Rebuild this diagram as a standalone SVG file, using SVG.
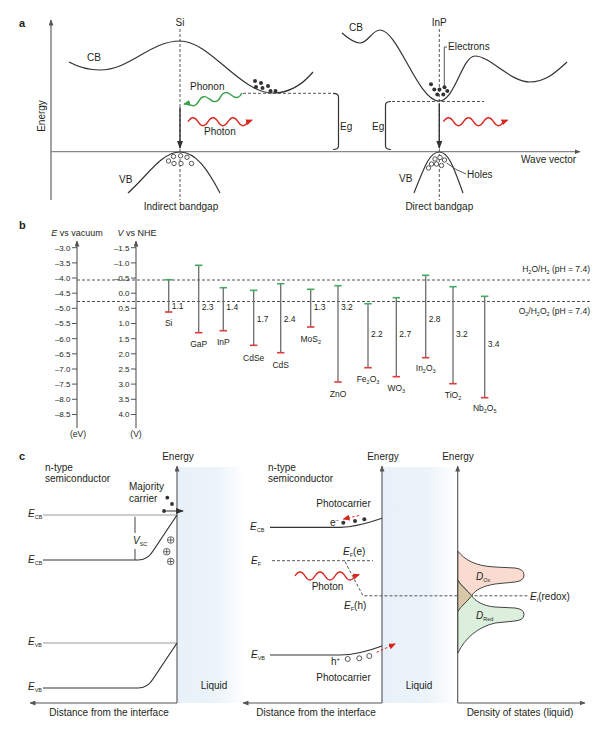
<svg xmlns="http://www.w3.org/2000/svg" width="600" height="731" viewBox="0 0 600 731">
<defs>
<style>
.t{font-family:"Liberation Sans",Arial,sans-serif;fill:#231f20}
.b{font-weight:bold;font-size:11px}
.f10{font-size:10px}
.f9{font-size:9px}
.f85{font-size:8.5px}
.f8{font-size:8px}
.mid{text-anchor:middle}
.end{text-anchor:end}
.it{font-style:italic}
.curve{fill:none;stroke:#333;stroke-width:1.2}
.axis{fill:none;stroke:#555;stroke-width:1.1}
.haxis{fill:none;stroke:#888;stroke-width:1.3}
.thin{fill:none;stroke:#999;stroke-width:1}
.dash{fill:none;stroke:#555;stroke-width:1;stroke-dasharray:3 2}
.bar{stroke:#6d6d6d;stroke-width:1.3}
.cbt{stroke:#45ab62;stroke-width:1.6}
.vbt{stroke:#e03a3a;stroke-width:1.6}
.tick{stroke:#555;stroke-width:1}
.el{fill:#333}
.hole{fill:#fff;stroke:#444;stroke-width:0.9}
.redw{fill:none;stroke:#d8261f;stroke-width:1.4}
.greenw{fill:none;stroke:#3aa14a;stroke-width:1.4}
.reddash{fill:none;stroke:#d8261f;stroke-width:1;stroke-dasharray:2.5 2}
</style>
<marker id="aDark" markerUnits="userSpaceOnUse" markerWidth="8" markerHeight="6" refX="7" refY="3" orient="auto"><path d="M0,0 L8,3 L0,6 Z" fill="#333"/></marker>
<marker id="aGray" markerUnits="userSpaceOnUse" markerWidth="6" markerHeight="5" refX="5.5" refY="2.5" orient="auto"><path d="M0,0 L6,2.5 L0,5 Z" fill="#555"/></marker>
<marker id="aRed" markerUnits="userSpaceOnUse" markerWidth="7" markerHeight="6" refX="6" refY="3" orient="auto"><path d="M0,0 L7,3 L0,6 Z" fill="#d8261f"/></marker>
<marker id="aGreen" markerUnits="userSpaceOnUse" markerWidth="7" markerHeight="6" refX="6" refY="3" orient="auto"><path d="M0,0 L7,3 L0,6 Z" fill="#3aa14a"/></marker>
<linearGradient id="liq" x1="0" y1="0" x2="1" y2="0">
<stop offset="0" stop-color="#e8f1f9"/>
<stop offset="0.6" stop-color="#ecf4fa"/>
<stop offset="1" stop-color="#ffffff"/>
</linearGradient>
</defs>
<rect width="600" height="731" fill="#fff"/>

<!-- ================= PANEL A ================= -->
<g id="panel-a">
<text class="t b" x="19" y="27">a</text>
<g id="a-axes">
<line class="axis" x1="51" y1="200" x2="51" y2="20" marker-end="url(#aGray)"/>
<line class="haxis" x1="51" y1="151.7" x2="580" y2="151.7" marker-end="url(#aGray)"/>
<text class="t f10 mid" transform="translate(45,116) rotate(-90)">Energy</text>
<text class="t f10" x="521" y="163">Wave vector</text>
</g>
<g id="si-indirect">
<text class="t f10 mid" x="180" y="26">Si</text>
<line class="dash" x1="180" y1="29" x2="180" y2="200"/>
<path class="curve" d="M69,62 C80,68 90,70 100,70 C130,70 150,41 180,41 C210,41 240,93 273,93 C290,93 303,84 313,72"/>
<text class="t f10" x="87" y="61">CB</text>
<line class="dash" x1="243" y1="93.3" x2="333" y2="93.3"/>
<path class="curve" d="M333,93.3 Q338.5,93.3 338.5,97 V146 Q338.5,149.5 333,149.5" stroke-width="1"/>
<text class="t f10" x="340" y="130">Eg</text>
<g id="si-electrons">
<circle class="el" cx="255" cy="81" r="2"/><circle class="el" cx="261" cy="83" r="2"/><circle class="el" cx="256" cy="87" r="2"/><circle class="el" cx="262.5" cy="88" r="2"/><circle class="el" cx="268" cy="86" r="2"/><circle class="el" cx="270.5" cy="91" r="2"/><circle class="el" cx="275.5" cy="91" r="2"/>
</g>
<text class="t f10" x="190" y="90">Phonon</text>
<path class="greenw" transform="translate(242,93) rotate(169.3)" d="M0,0 q5.5,-7 11,0 t11,0 t11,0 t11,0 t11,0 l4,0" marker-end="url(#aGreen)"/>
<path class="redw" d="M188,121.7 q5,-8 10,0 t10,0 t10,0 t10,0 t10,0 t10,0 l4,-1.5" marker-end="url(#aRed)"/>
<text class="t f10" x="204" y="135">Photon</text>
<line x1="180" y1="107.3" x2="180" y2="148" stroke="#333" stroke-width="1.4" marker-end="url(#aDark)"/>
<path class="curve" d="M128,193 C148,175 162,152 180,152 C196,152 208,170 220,193"/>
<text class="t f10" x="119" y="183">VB</text>
<g id="si-holes">
<circle class="hole" cx="168.5" cy="161" r="2.2"/><circle class="hole" cx="173.5" cy="156.5" r="2.2"/><circle class="hole" cx="180.5" cy="155.8" r="2.2"/><circle class="hole" cx="187" cy="157.3" r="2.2"/><circle class="hole" cx="174" cy="163.5" r="2.2"/><circle class="hole" cx="181" cy="163.5" r="2.2"/><circle class="hole" cx="191.5" cy="163.5" r="2.2"/>
</g>
<text class="t f10 mid" x="181" y="210">Indirect bandgap</text>
</g>
<g id="inp-direct">
<text class="t f10 mid" x="439.3" y="26">InP</text>
<line class="dash" x1="439.3" y1="29" x2="439.3" y2="200"/>
<path class="curve" d="M342,33 C350,40 355,43 360,43 C368,43 372,30 380,30 C398,30 418,101 439,101 C455,101 462,56 475,56 C490,56 510,82 530,82 C547,82 558,70 567,62"/>
<text class="t f10" x="349" y="31">CB</text>
<path d="M447,47 H444.3 V88" fill="none" stroke="#444" stroke-width="0.9"/>
<text class="t f10" x="448" y="50">Electrons</text>
<g id="inp-electrons">
<circle class="el" cx="431" cy="84.3" r="2"/><circle class="el" cx="434.3" cy="89.5" r="2"/><circle class="el" cx="439.5" cy="89.5" r="2"/><circle class="el" cx="444.5" cy="87.3" r="2"/><circle class="el" cx="447.3" cy="91" r="2"/><circle class="el" cx="437.3" cy="94.5" r="2"/><circle class="el" cx="443.3" cy="94.5" r="2"/>
</g>
<line class="dash" x1="392" y1="101.5" x2="484" y2="101.5"/>
<path class="curve" d="M391,101.5 Q385.5,101.5 385.5,105 V146 Q385.5,149.5 391,149.5" stroke-width="1"/>
<text class="t f10" x="372" y="130">Eg</text>
<line x1="439.3" y1="103.3" x2="439.3" y2="148" stroke="#333" stroke-width="1.4" marker-end="url(#aDark)"/>
<path class="redw" d="M443.5,121.7 q5,-8 10,0 t10,0 t10,0 t10,0 t10,0 t10,0 l4,-1.5" marker-end="url(#aRed)"/>
<path class="curve" d="M414,193 C425,165 430,152 439.3,152 C448,152 453,165 463,193"/>
<text class="t f10" x="399" y="182">VB</text>
<g id="inp-holes">
<circle class="hole" cx="435" cy="159" r="2.2"/><circle class="hole" cx="440" cy="157.5" r="2.2"/><circle class="hole" cx="444.5" cy="160" r="2.2"/><circle class="hole" cx="431.5" cy="164" r="2.2"/><circle class="hole" cx="436.5" cy="164" r="2.2"/><circle class="hole" cx="441.5" cy="165.5" r="2.2"/><circle class="hole" cx="428.5" cy="168" r="2.2"/>
</g>
<path d="M446.7,163 Q455,170 466,174" fill="none" stroke="#444" stroke-width="0.9"/>
<text class="t f10" x="467" y="178">Holes</text>
<text class="t f10 mid" x="439.3" y="210">Direct bandgap</text>
</g>
</g>

<!-- ================= PANEL B ================= -->
<g id="panel-b">
<text class="t b" x="19" y="229">b</text>
<g id="b-axes">
<text class="t f9 mid" x="77" y="236"><tspan class="it">E</tspan> vs vacuum</text>
<text class="t f9 mid" x="137" y="236"><tspan class="it">V</tspan> vs NHE</text>
<line class="axis" x1="77" y1="428" x2="77" y2="241" marker-end="url(#aGray)"/>
<line class="axis" x1="136" y1="428" x2="136" y2="241" marker-end="url(#aGray)"/>
<g class="tick">
<line x1="72" y1="247.7" x2="77" y2="247.7"/><line x1="72" y1="262.9" x2="77" y2="262.9"/><line x1="72" y1="278" x2="77" y2="278"/><line x1="72" y1="293.2" x2="77" y2="293.2"/><line x1="72" y1="308.3" x2="77" y2="308.3"/><line x1="72" y1="323.5" x2="77" y2="323.5"/><line x1="72" y1="338.7" x2="77" y2="338.7"/><line x1="72" y1="353.8" x2="77" y2="353.8"/><line x1="72" y1="369" x2="77" y2="369"/><line x1="72" y1="384.1" x2="77" y2="384.1"/><line x1="72" y1="399.3" x2="77" y2="399.3"/><line x1="72" y1="414.5" x2="77" y2="414.5"/>
<line x1="131" y1="247.7" x2="136" y2="247.7"/><line x1="131" y1="262.9" x2="136" y2="262.9"/><line x1="131" y1="278" x2="136" y2="278"/><line x1="131" y1="293.2" x2="136" y2="293.2"/><line x1="131" y1="308.3" x2="136" y2="308.3"/><line x1="131" y1="323.5" x2="136" y2="323.5"/><line x1="131" y1="338.7" x2="136" y2="338.7"/><line x1="131" y1="353.8" x2="136" y2="353.8"/><line x1="131" y1="369" x2="136" y2="369"/><line x1="131" y1="384.1" x2="136" y2="384.1"/><line x1="131" y1="399.3" x2="136" y2="399.3"/><line x1="131" y1="414.5" x2="136" y2="414.5"/>
</g>
<g class="t f8 end">
<text x="70.5" y="250.5">–3.0</text><text x="70.5" y="265.7">–3.5</text><text x="70.5" y="280.8">–4.0</text><text x="70.5" y="296">–4.5</text><text x="70.5" y="311.1">–5.0</text><text x="70.5" y="326.3">–5.5</text><text x="70.5" y="341.5">–6.0</text><text x="70.5" y="356.6">–6.5</text><text x="70.5" y="371.8">–7.0</text><text x="70.5" y="386.9">–7.5</text><text x="70.5" y="402.1">–8.0</text><text x="70.5" y="417.3">–8.5</text>
<text x="129.5" y="250.5">–1.5</text><text x="129.5" y="265.7">–1.0</text><text x="129.5" y="280.8">–0.5</text><text x="129.5" y="296">0.0</text><text x="129.5" y="311.1">0.5</text><text x="129.5" y="326.3">1.0</text><text x="129.5" y="341.5">1.5</text><text x="129.5" y="356.6">2.0</text><text x="129.5" y="371.8">2.5</text><text x="129.5" y="386.9">3.0</text><text x="129.5" y="402.1">3.5</text><text x="129.5" y="417.3">4.0</text>
</g>
<text class="t f85 mid" x="78" y="437">(eV)</text>
<text class="t f85 mid" x="136" y="437">(V)</text>
</g>
<g id="redox-levels">
<line class="dash" x1="77" y1="280" x2="590" y2="280"/>
<line class="dash" x1="77" y1="301.5" x2="590" y2="301.5"/>
<text class="t f85 end" x="590" y="271.5">H<tspan font-size="5.5" dy="2">2</tspan><tspan dy="-2">O/H</tspan><tspan font-size="5.5" dy="2">2</tspan><tspan dy="-2"> (pH = 7.4)</tspan></text>
<text class="t f85 end" x="590" y="314">O<tspan font-size="5.5" dy="2">2</tspan><tspan dy="-2">/H</tspan><tspan font-size="5.5" dy="2">2</tspan><tspan dy="-2">O</tspan><tspan font-size="5.5" dy="2">2</tspan><tspan dy="-2"> (pH = 7.4)</tspan></text>
</g>
<g id="bar-si"><line class="bar" x1="168.7" y1="279.7" x2="168.7" y2="312"/><line class="cbt" x1="165" y1="279.7" x2="172.4" y2="279.7"/><line class="vbt" x1="165" y1="312" x2="172.4" y2="312"/><text class="t f85" x="171.7" y="309">1.1</text><text class="t f85 mid" x="168.7" y="326">Si</text></g>
<g id="bar-gap"><line class="bar" x1="198.7" y1="265.3" x2="198.7" y2="332.7"/><line class="cbt" x1="195" y1="265.3" x2="202.4" y2="265.3"/><line class="vbt" x1="195" y1="332.7" x2="202.4" y2="332.7"/><text class="t f85" x="201.7" y="310">2.3</text><text class="t f85 mid" x="198.7" y="346.5">GaP</text></g>
<g id="bar-inp"><line class="bar" x1="223.3" y1="287.7" x2="223.3" y2="330.7"/><line class="cbt" x1="219.6" y1="287.7" x2="227" y2="287.7"/><line class="vbt" x1="219.6" y1="330.7" x2="227" y2="330.7"/><text class="t f85" x="226.3" y="309.5">1.4</text><text class="t f85 mid" x="223.3" y="345">InP</text></g>
<g id="bar-cdse"><line class="bar" x1="253.7" y1="290.3" x2="253.7" y2="345.3"/><line class="cbt" x1="250" y1="290.3" x2="257.4" y2="290.3"/><line class="vbt" x1="250" y1="345.3" x2="257.4" y2="345.3"/><text class="t f85" x="256.7" y="322">1.7</text><text class="t f85 mid" x="253.7" y="360.5">CdSe</text></g>
<g id="bar-cds"><line class="bar" x1="280.7" y1="283.7" x2="280.7" y2="352.7"/><line class="cbt" x1="277" y1="283.7" x2="284.4" y2="283.7"/><line class="vbt" x1="277" y1="352.7" x2="284.4" y2="352.7"/><text class="t f85" x="283.7" y="322">2.4</text><text class="t f85 mid" x="280.7" y="367.5">CdS</text></g>
<g id="bar-mos2"><line class="bar" x1="310.7" y1="289.3" x2="310.7" y2="327"/><line class="cbt" x1="307" y1="289.3" x2="314.4" y2="289.3"/><line class="vbt" x1="307" y1="327" x2="314.4" y2="327"/><text class="t f85" x="313.7" y="309.5">1.3</text><text class="t f85 mid" x="310.7" y="341.5">MoS<tspan font-size="5.5" dy="2">2</tspan></text></g>
<g id="bar-zno"><line class="bar" x1="338" y1="285.7" x2="338" y2="382"/><line class="cbt" x1="334.3" y1="285.7" x2="341.7" y2="285.7"/><line class="vbt" x1="334.3" y1="382" x2="341.7" y2="382"/><text class="t f85" x="341" y="309.5">3.2</text><text class="t f85 mid" x="338" y="396.5">ZnO</text></g>
<g id="bar-fe2o3"><line class="bar" x1="368" y1="303.7" x2="368" y2="367.7"/><line class="cbt" x1="364.3" y1="303.7" x2="371.7" y2="303.7"/><line class="vbt" x1="364.3" y1="367.7" x2="371.7" y2="367.7"/><text class="t f85" x="371" y="336.5">2.2</text><text class="t f85 mid" x="368" y="381.5">Fe<tspan font-size="5.5" dy="2">2</tspan><tspan dy="-2">O</tspan><tspan font-size="5.5" dy="2">3</tspan></text></g>
<g id="bar-wo3"><line class="bar" x1="396.3" y1="297.7" x2="396.3" y2="376.7"/><line class="cbt" x1="392.6" y1="297.7" x2="400" y2="297.7"/><line class="vbt" x1="392.6" y1="376.7" x2="400" y2="376.7"/><text class="t f85" x="399.3" y="336.5">2.7</text><text class="t f85 mid" x="396.3" y="391">WO<tspan font-size="5.5" dy="2">3</tspan></text></g>
<g id="bar-in2o3"><line class="bar" x1="425.7" y1="275.3" x2="425.7" y2="357.7"/><line class="cbt" x1="422" y1="275.3" x2="429.4" y2="275.3"/><line class="vbt" x1="422" y1="357.7" x2="429.4" y2="357.7"/><text class="t f85" x="428.7" y="322">2.8</text><text class="t f85 mid" x="425.7" y="370.5">In<tspan font-size="5.5" dy="2">2</tspan><tspan dy="-2">O</tspan><tspan font-size="5.5" dy="2">3</tspan></text></g>
<g id="bar-tio2"><line class="bar" x1="453" y1="286.7" x2="453" y2="383.7"/><line class="cbt" x1="449.3" y1="286.7" x2="456.7" y2="286.7"/><line class="vbt" x1="449.3" y1="383.7" x2="456.7" y2="383.7"/><text class="t f85" x="456" y="337">3.2</text><text class="t f85 mid" x="453" y="397.5">TiO<tspan font-size="5.5" dy="2">2</tspan></text></g>
<g id="bar-nb2o5"><line class="bar" x1="484.7" y1="296.3" x2="484.7" y2="397.7"/><line class="cbt" x1="481" y1="296.3" x2="488.4" y2="296.3"/><line class="vbt" x1="481" y1="397.7" x2="488.4" y2="397.7"/><text class="t f85" x="487.7" y="346.5">3.4</text><text class="t f85 mid" x="484.7" y="411">Nb<tspan font-size="5.5" dy="2">2</tspan><tspan dy="-2">O</tspan><tspan font-size="5.5" dy="2">5</tspan></text></g>
</g>

<!-- ================= PANEL C ================= -->
<g id="panel-c">
<text class="t b" x="19" y="460">c</text>
<rect id="liquid-1" x="177" y="467" width="68" height="236" fill="url(#liq)"/>
<rect id="liquid-2" x="382" y="467" width="76" height="236" fill="url(#liq)"/>
<text class="t f10 mid" x="214" y="689">Liquid</text>
<text class="t f10 mid" x="419" y="689">Liquid</text>

<g id="c-dark">
<line class="axis" x1="177" y1="703" x2="177" y2="466" marker-end="url(#aGray)"/>
<line class="axis" x1="177" y1="703" x2="30" y2="703" marker-end="url(#aGray)"/>
<text class="t f10 mid" x="178" y="460">Energy</text>
<text class="t f10 mid" x="109" y="716">Distance from the interface</text>
<text class="t f10" x="45" y="470.5">n-type</text>
<text class="t f10" x="45" y="482">semiconductor</text>
<text class="t f10" x="129" y="490">Majority</text>
<text class="t f10" x="129" y="501.5">carrier</text>
<circle class="el" cx="167.3" cy="497.7" r="1.9"/>
<circle class="el" cx="172" cy="504" r="1.9"/>
<circle class="el" cx="164" cy="511" r="1.9"/>
<line x1="164" y1="511" x2="183" y2="511" stroke="#333" stroke-width="1" marker-end="url(#aDark)"/>
<line class="thin" x1="43" y1="515" x2="177" y2="515"/>
<path class="curve" d="M43,560 H138 C146,560 150,556 153,551 L177,515"/>
<text class="t f10" x="28" y="517"><tspan class="it">E</tspan><tspan font-size="5.5" dy="2">CB</tspan></text>
<text class="t f10" x="28" y="563"><tspan class="it">E</tspan><tspan font-size="5.5" dy="2">CB</tspan></text>
<line x1="135" y1="516.7" x2="135" y2="533" stroke="#444" stroke-width="1"/>
<line x1="135" y1="549" x2="135" y2="560" stroke="#444" stroke-width="1"/>
<text class="t f10" x="133" y="544"><tspan class="it">V</tspan><tspan font-size="5.5" dy="2">SC</tspan></text>
<g id="plus-charges" fill="none" stroke="#444" stroke-width="0.8">
<circle cx="170.7" cy="540" r="3.3"/><path d="M168,540 h5.4 M170.7,537.3 v5.4"/>
<circle cx="166.7" cy="551.7" r="3.3"/><path d="M164,551.7 h5.4 M166.7,549 v5.4"/>
<circle cx="170.7" cy="561.5" r="3.3"/><path d="M168,561.5 h5.4 M170.7,558.8 v5.4"/>
</g>
<line class="thin" x1="43" y1="643" x2="177" y2="643"/>
<path class="curve" d="M43,688 H138 C146,688 150,684 153,679 L177,643"/>
<text class="t f10" x="28" y="645"><tspan class="it">E</tspan><tspan font-size="5.5" dy="2">VB</tspan></text>
<text class="t f10" x="28" y="690"><tspan class="it">E</tspan><tspan font-size="5.5" dy="2">VB</tspan></text>
</g>

<g id="c-light">
<line class="axis" x1="382" y1="703" x2="382" y2="466" marker-end="url(#aGray)"/>
<line class="axis" x1="382" y1="703" x2="243" y2="703" marker-end="url(#aGray)"/>
<text class="t f10 mid" x="383" y="460">Energy</text>
<text class="t f10 mid" x="316" y="716">Distance from the interface</text>
<text class="t f10" x="268" y="470.5">n-type</text>
<text class="t f10" x="268" y="482">semiconductor</text>
<text class="t f10 mid" x="343.5" y="506.5">Photocarrier</text>
<path class="curve" d="M270,527.3 H340 C355,527.3 370,522.5 382,518.3"/>
<text class="t f10" x="250" y="530"><tspan class="it">E</tspan><tspan font-size="5.5" dy="2">CB</tspan></text>
<text class="t f10" x="330" y="526">e<tspan font-size="6" dy="-4">−</tspan></text>
<circle class="el" cx="343.3" cy="522.7" r="2"/>
<circle class="el" cx="355" cy="521" r="2"/>
<circle class="el" cx="364.3" cy="519.3" r="2"/>
<line class="reddash" x1="359" y1="515.5" x2="343.5" y2="519" marker-end="url(#aRed)"/>
<line class="dash" x1="272" y1="560.7" x2="373" y2="560.7"/>
<text class="t f10" x="251" y="564"><tspan class="it">E</tspan><tspan font-size="5.5" dy="2">F</tspan></text>
<text class="t f10" x="343" y="555"><tspan class="it">E</tspan><tspan font-size="5.5" dy="2">F</tspan><tspan dy="-2">(e)</tspan></text>
<path class="dash" d="M345,561.7 L363,595.8 H528"/>
<text class="t f10" x="344" y="609"><tspan class="it">E</tspan><tspan font-size="5.5" dy="2">F</tspan><tspan dy="-2">(h)</tspan></text>
<path class="redw" d="M295,576 q5,-8 10,0 t10,0 t10,0 t10,0 t10,0 t10,0 l4,-1.5" marker-end="url(#aRed)"/>
<text class="t f10 mid" x="327.5" y="589.5">Photon</text>
<path class="curve" d="M270,655 H340 C355,655 370,650.5 382,646"/>
<text class="t f10" x="251" y="658"><tspan class="it">E</tspan><tspan font-size="5.5" dy="2">VB</tspan></text>
<text class="t f10" x="331" y="664.5">h<tspan font-size="6" dy="-4">+</tspan></text>
<circle class="hole" cx="347.7" cy="659" r="2.5"/>
<circle class="hole" cx="359.3" cy="658.3" r="2.5"/>
<circle class="hole" cx="369.3" cy="656" r="2.5"/>
<line class="reddash" x1="376.7" y1="652.3" x2="395" y2="644" marker-end="url(#aRed)"/>
<text class="t f10 mid" x="343.5" y="680.5">Photocarrier</text>
</g>

<g id="c-dos">
<path d="M457.7,551 C465,560 475,566 495,567 L515,568 Q524,569 524,575 Q524,581 515,582 L495,584 C483,586 475,590 471.7,595.7 C467,602 461,606 457.7,611.7 Z" fill="#fadbcf" stroke="#444" stroke-width="1"/>
<path d="M457.7,580 C461,586 467,590 471.7,595.7 C475,601 483,606 495,607 L515,608 Q524,609 524,614.5 Q524,620 515,621 L495,623 C478,627 465,638 457.7,653.3 Z" fill="#dcefdc" stroke="#444" stroke-width="1"/>
<path d="M457.7,580 C461,586 467,590 471.7,595.7 C467,602 461,606 457.7,611.7 Z" fill="#d9c8a8" stroke="#444" stroke-width="1"/>
<line class="axis" x1="457.7" y1="703" x2="457.7" y2="466" marker-end="url(#aGray)"/>
<line class="axis" x1="457.7" y1="703" x2="585" y2="703" marker-end="url(#aGray)"/>
<text class="t f10 mid" x="458" y="460">Energy</text>
<text class="t f10 mid" x="520" y="716">Density of states (liquid)</text>
<text class="t f10" x="476" y="580"><tspan class="it">D</tspan><tspan font-size="5.5" dy="2">Ox</tspan></text>
<text class="t f10" x="476" y="618.5"><tspan class="it">D</tspan><tspan font-size="5.5" dy="2">Red</tspan></text>
<text class="t f10" x="530" y="599.5"><tspan class="it">E</tspan><tspan font-size="5.5" dy="2">f</tspan><tspan dy="-2">(redox)</tspan></text>
</g>
</g>
</svg>
